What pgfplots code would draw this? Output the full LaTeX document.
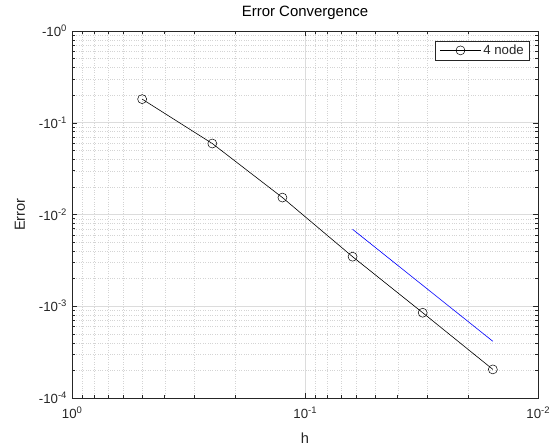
\documentclass[border=0pt]{standalone}
\usepackage{fontspec}
\setmainfont{Liberation Sans}
\usepackage{pgfplots}
\pgfplotsset{compat=1.18}
\definecolor{axgray}{RGB}{38,38,38}
\definecolor{majgrid}{RGB}{220,220,220}
\definecolor{mingrid}{RGB}{212,212,212}
% MATLAB-like superscript for the tick labels
\newcommand\sps[1]{\raisebox{5bp}{\fontsize{9.5}{10}\selectfont #1}}

\begin{document}
\begin{tikzpicture}
\begin{axis}[
    scale only axis,
    width=466bp, height=367bp,
    xmode=log, ymode=log,
    x dir=reverse,
    xmin=0.01, xmax=1,
    ymin=1e-4, ymax=1,
    xtick={0.01,0.1,1},
    xticklabels={10\sps{-2},10\sps{-1},10\sps{0}},
    ytick={1e-4,1e-3,1e-2,1e-1,1},
    yticklabels={-10\sps{-4},-10\sps{-3},-10\sps{-2},-10\sps{-1},-10\sps{0}},
    minor xtick={0.02,0.03,0.04,0.05,0.06,0.07,0.08,0.09,0.2,0.3,0.4,0.5,0.6,0.7,0.8,0.9},
    minor ytick={2e-4,3e-4,4e-4,5e-4,6e-4,7e-4,8e-4,9e-4,
                 2e-3,3e-3,4e-3,5e-3,6e-3,7e-3,8e-3,9e-3,
                 2e-2,3e-2,4e-2,5e-2,6e-2,7e-2,8e-2,9e-2,
                 0.2,0.3,0.4,0.5,0.6,0.7,0.8,0.9},
    grid=both,
    major grid style={majgrid, line width=0.7pt},
    minor grid style={mingrid, dotted, line width=0.4pt},
    axis line style={axgray, line width=0.6pt},
    tick style={axgray, line width=0.5pt},
    major tick length=5bp, minor tick length=3bp,
    tick align=inside,
    ticklabel style={font=\fontsize{13.3}{15}\selectfont, text=axgray},
    xticklabel style={yshift=-5bp},
    yticklabel style={xshift=-2bp},
    title={Error Convergence},
    title style={font=\fontsize{15}{17}\selectfont, text=black,
                 at={(axis description cs:0.5,1.0245)}, anchor=base},
    xlabel={h},
    xlabel style={font=\fontsize{14.7}{16}\selectfont, text=axgray,
                  at={(axis description cs:0.5,-0.1226)}, anchor=base},
    ylabel={Error},
    ylabel style={font=\fontsize{14.7}{16}\selectfont, text=axgray,
                  at={(axis description cs:-0.1009,0.5)}, anchor=base},
    legend style={at={(0.983,0.974)}, anchor=north east,
                  draw=axgray, fill=white, line width=0.6pt,
                  font=\fontsize{13.3}{15}\selectfont, text=axgray,
                  inner xsep=4bp, inner ysep=2bp},
    legend cell align=left,
    legend image code/.code={
        \draw[mark repeat=2,mark phase=2] plot coordinates {(0bp,0bp)(20.5bp,0bp)(41bp,0bp)};
    },
]
\addplot[black, line width=0.6pt, mark=o, mark size=4.5bp,
         mark options={line width=0.5pt}]
    coordinates {
    (0.5,0.181) (0.25,0.0594) (0.125,0.0153)
    (0.0625,0.00347) (0.03125,0.00085) (0.015625,0.000205)
};
\addlegendentry{4 node}
\addplot[blue, line width=0.6pt, forget plot]
    coordinates {(0.0625,0.0069) (0.015625,0.000415)};
\end{axis}
\pgfresetboundingbox
\useasboundingbox ([shift={(-72bp,-47bp)}]current axis.south west)
    rectangle ([shift={(22bp,31bp)}]current axis.north east);
\end{tikzpicture}
\end{document}
